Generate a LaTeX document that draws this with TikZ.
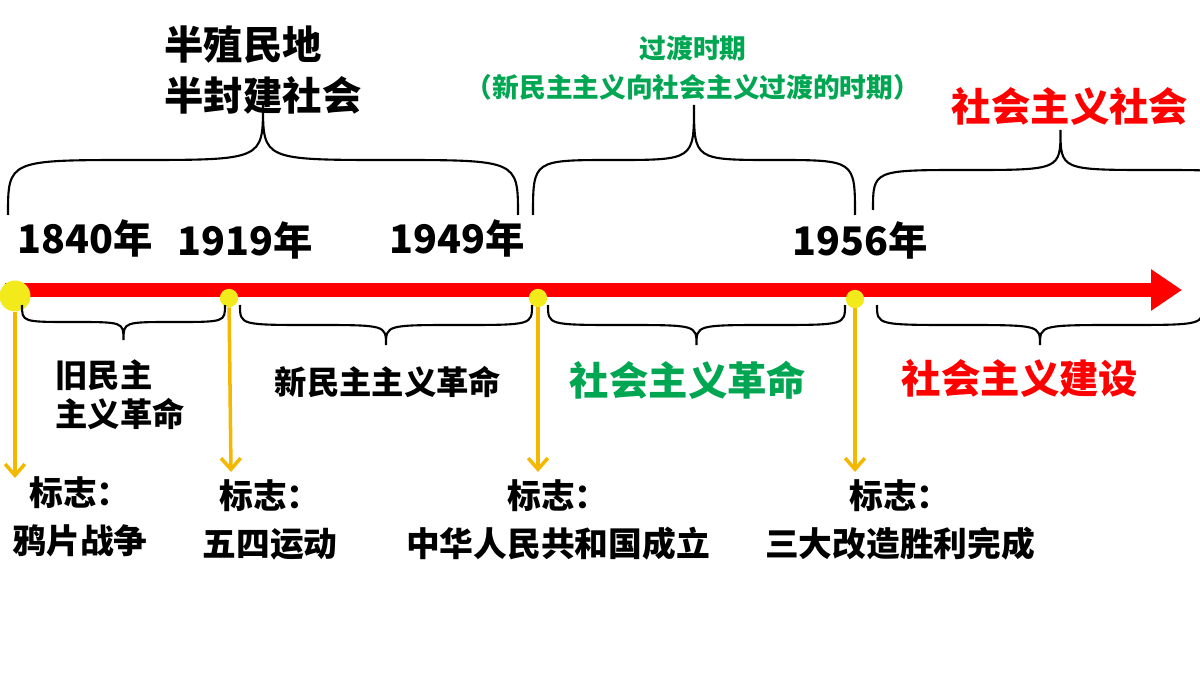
\documentclass[tikz,border=0pt]{standalone}
\usepackage{fontspec}
\setmainfont{Noto Sans CJK SC}
\usetikzlibrary{arrows.meta,positioning}
\definecolor{tlred}{HTML}{FF0000}
\definecolor{tlgreen}{HTML}{00A651}
\definecolor{tlyellow}{HTML}{F5B800}
\definecolor{dotyellow}{HTML}{F2EA1A}
% curly brace: left end, tip, right end
\newcommand{\upbrace}[5]{% x1, x2, y ends, y mid, y tip
  \draw[brc] (#1,#3) .. controls (#1,#4) .. ({(#1+(#1+#2)/2)/2},#4)
    .. controls ({(#1+#2)/2},#4) .. ({(#1+#2)/2},#5)
    .. controls ({(#1+#2)/2},#4) .. ({((#1+#2)/2+#2)/2},#4)
    .. controls (#2,#4) .. (#2,#3);}
\begin{document}
\begin{tikzpicture}[x=0.025cm, y=-0.025cm,
    brc/.style={black, line width=1.5pt},
    year/.style={font=\fontsize{28}{34}\selectfont\bfseries},
    era/.style={font=\fontsize{23}{28}\selectfont\bfseries, align=center},
    signtxt/.style={font=\fontsize{24}{34}\selectfont\bfseries, align=center},
    dot/.style={circle, fill=dotyellow, inner sep=0pt},
    drop/.style={tlyellow, line width=2.5pt, -{Straight Barb[length=8pt,width=14pt]}}
]
    \fill[white] (0,0) rectangle (1200,675);
    \useasboundingbox (0,0) rectangle (1200,675);
    % main axis
    \coordinate (start) at (5,290);
    \coordinate (tip) at (1182,290);
    \draw[tlred, line width=10pt, -{Triangle[length=22pt,width=28pt]}] (start) -- (tip);
    % dots
    \node[dot, minimum size=22pt] (d1) at (15,296) {};
    \node[dot, minimum size=13pt] (d2) at (229,298) {};
    \node[dot, minimum size=13pt] (d3) at (538,298) {};
    \node[dot, minimum size=13pt] (d4) at (855,299) {};
    \coordinate (e1) at (15,478);
    \coordinate (e2) at (231,472);
    \coordinate (e3) at (538,472);
    \coordinate (e4) at (855,472);
    \foreach \i in {1,2,3,4} {
        \draw[drop] (d\i) -- (e\i);
    }
    % years
    \node[year] (y1) at (85,238) {1840年};
    \node[year] (y2) at (245,240) {1919年};
    \node[year] (y3) at (457,238) {1949年};
    \node[year] (y4) at (860,240) {1956年};
    % top braces
    \upbrace{8}{518}{215}{160}{105}
    \upbrace{533}{855}{215}{160}{105}
    \upbrace{873}{1248}{210}{170}{130}
    \node[font=\fontsize{28}{36}\selectfont\bfseries, align=left] (semi) at (263,70) {半殖民地\\半封建社会};
    \node[tlgreen, font=\fontsize{19}{28}\selectfont\bfseries, align=center] (trans) at (693,68) {过渡时期\\（新民主主义向社会主义过渡的时期）};
    \node[tlred, font=\fontsize{28}{32}\selectfont\bfseries] (soc) at (1070,106) {社会主义社会};
    % bottom braces
    \upbrace{22}{225}{305}{322}{340}
    \upbrace{240}{532}{305}{325}{345}
    \upbrace{548}{845}{305}{325}{345}
    \upbrace{877}{1203}{305}{325}{345}
    \node[era, align=left] (old) at (120,395) {旧民主\\主义革命};
    \node[era] (new) at (388,382) {新民主主义革命};
    \node[era, tlgreen, font=\fontsize{28}{32}\selectfont\bfseries] (srev) at (688,380) {社会主义革命};
    \node[era, tlred, font=\fontsize{28}{32}\selectfont\bfseries] (sbuild) at (1020,378) {社会主义建设};
    % signs
    \node[signtxt] (m1) at (80,517) {标志：\\鸦片战争};
    \node[signtxt] (m2) at (270,520) {标志：\\五四运动};
    \node[signtxt] (m3) at (558,520) {标志：\\中华人民共和国成立};
    \node[signtxt] (m4) at (900,520) {标志：\\三大改造胜利完成};
\end{tikzpicture}
\end{document}
